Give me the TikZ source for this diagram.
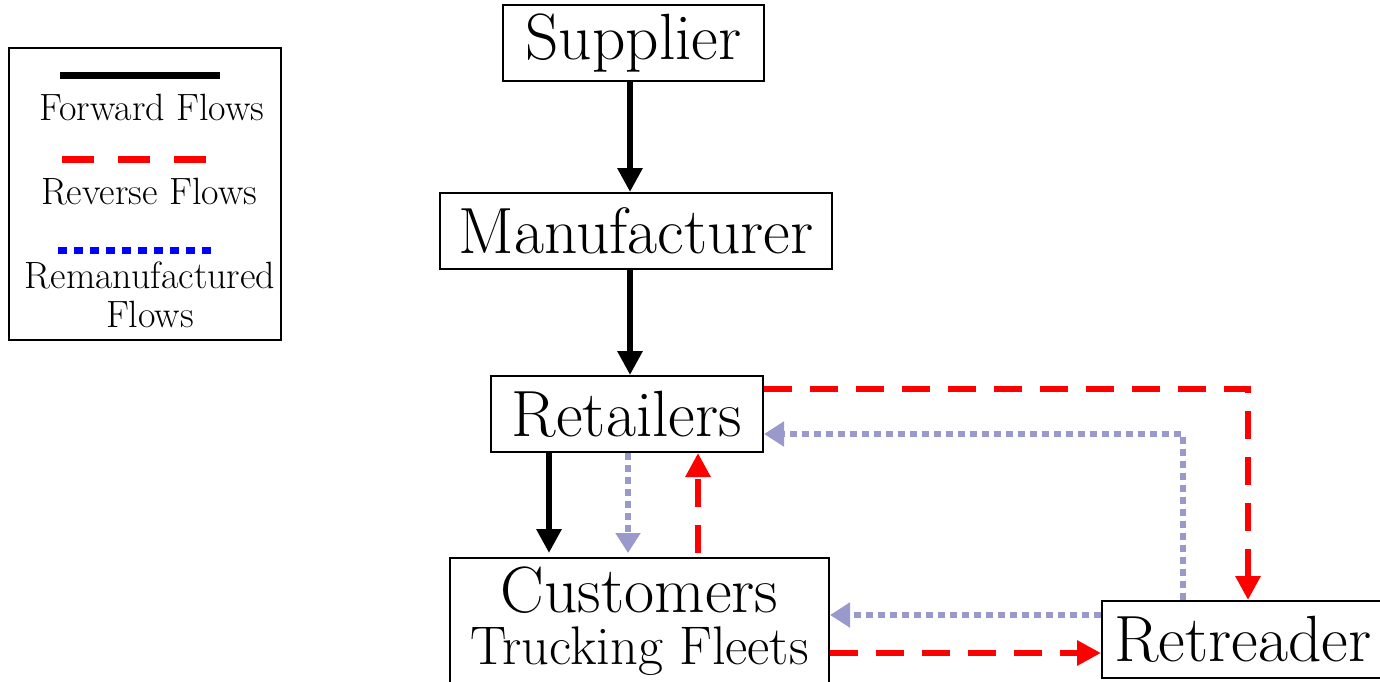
\documentclass[tikz,border=0pt]{standalone}
\usepackage{fontspec}
\usetikzlibrary{arrows.meta}

\begin{document}
\begin{tikzpicture}[x=0.5pt,y=-0.5pt,
  box/.style={draw={rgb,255:red,0;green,0;blue,0},line width=1pt,inner sep=0pt,anchor=center,align=center,font=\fontsize{32.7}{36}\selectfont},
  fwd/.style={draw={rgb,255:red,0;green,0;blue,0},line width=3pt,-{Triangle[length=12pt,width=12pt]}},
  rev/.style={draw={rgb,255:red,255;green,0;blue,0},line width=3pt,line join=miter,dash pattern=on 14pt off 9pt,-{Triangle[length=12pt,width=12pt]}},
  reman/.style={draw={rgb,255:red,153;green,153;blue,204},line width=3pt,line join=miter,dash pattern=on 3.5pt off 2.5pt,-{Triangle[length=10pt,width=12pt]}},
  legtext/.style={anchor=center,align=center,font=\fontsize{19}{19.5}\selectfont}]
% 1380 x 681 px, one px = 0.5pt
\useasboundingbox (0,0) rectangle (1380,681);

% legend
\node[draw,line width=1pt,minimum width=136pt,minimum height=146pt,inner sep=0pt] (legend) at (145,194) {};
\path[draw={rgb,255:red,0;green,0;blue,0},line width=3.5pt] (60,75) -- (220,75);
\node[legtext] (legfwd) at (152,107) {Forward Flows};
\path[draw={rgb,255:red,255;green,0;blue,0},line width=3.5pt,dash pattern=on 16pt off 12pt] (62,159) -- (206,159);
\node[legtext] (legrev) at (149,192) {Reverse Flows};
\path[draw={rgb,255:red,0;green,0;blue,255},line width=3.5pt,dash pattern=on 4.5pt off 3.5pt] (58,250) -- (212,250);
\node[legtext] (legreman) at (150,295) {Remanufactured\\Flows};

% chain
\node[box,minimum width=130.5pt,minimum height=38pt] (sup) at (633.5,43) {Supplier};
\node[box,minimum width=196pt,minimum height=38pt] (man) at (636,231) {Manufacturer};
\node[box,minimum width=136pt,minimum height=38pt] (ret) at (627,414) {Retailers};
\node[box,minimum width=189.5pt,minimum height=63.5pt] (cus) at (639.5,621.5) {Customers\\[-10pt]{\fontsize{27.2}{30}\selectfont Trucking Fleets}};
\node[box,minimum width=141pt,minimum height=38.5pt] (rtr) at (1243,639.5) {Retreader};

\coordinate (f0) at (630,0);
\coordinate (f1) at (549,0);
\coordinate (b0) at (628,0);
\coordinate (r0) at (698,0);
\coordinate (r1) at (1248,389);
\coordinate (b1) at (1183,434);
\coordinate (b2) at (0,615);
\coordinate (r2) at (0,653);

\draw[fwd] (sup.south -| f0) -- (man.north -| f0);
\draw[fwd] (man.south -| f0) -- (ret.north -| f0);
\draw[fwd] (ret.south -| f1) -- ([yshift=2pt]cus.north -| f1);
\draw[reman] (ret.south -| b0) -- ([yshift=2pt]cus.north -| b0);
\draw[rev] ([yshift=2pt]cus.north -| r0) -- (ret.south -| r0);
\draw[rev] (ret.east |- r1) -- (r1) -- (r1 |- rtr.north);
\draw[reman] (b1 |- rtr.north) -- (b1) -- (ret.east |- b1);
\draw[reman] (rtr.west |- b2) -- (cus.east |- b2);
\draw[rev] (cus.east |- r2) -- (rtr.west |- r2);
\end{tikzpicture}
\end{document}
